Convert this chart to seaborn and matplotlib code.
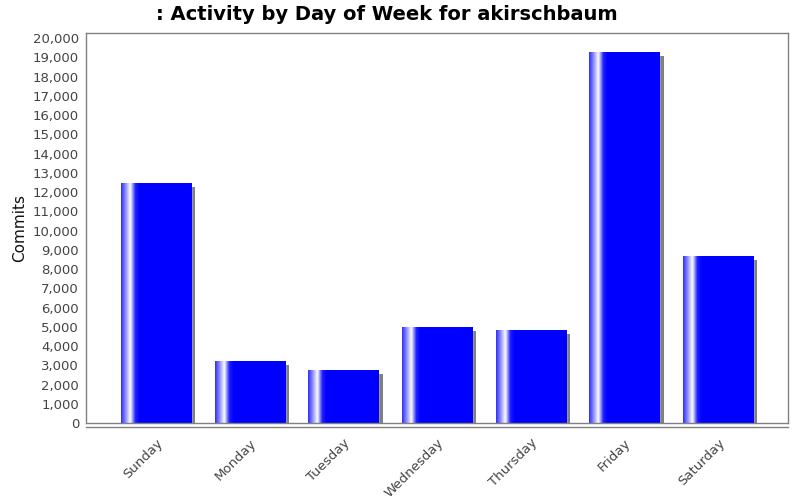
import numpy as np
import matplotlib
matplotlib.use("Agg")
import matplotlib.pyplot as plt
import matplotlib.patheffects as pe
from matplotlib.colors import LinearSegmentedColormap
import seaborn as sns
import pandas as pd

days = ["Sunday", "Monday", "Tuesday", "Wednesday", "Thursday", "Friday", "Saturday"]
commits = [12470, 3220, 2740, 4970, 4850, 19270, 8660]
y_ticks = list(range(0, 20001, 1000))

df = pd.DataFrame({"day": days, "commits": commits})

sns.set_style("white")
plt.rcParams["font.family"] = ["DejaVu Sans"]

fig = plt.figure(figsize=(8, 5), dpi=100)
ax = fig.add_axes([0.1075, 0.154, 0.8775, 0.78])

sns.barplot(data=df, x="day", y="commits", color="#0000ff", width=0.75,
            saturation=1, ax=ax)

# jfreechart style gradient + drop shadow
grad = LinearSegmentedColormap.from_list(
    "jfc", [(0.0, "#3030ff"), (0.07, "#9a9aff"), (0.13, "#ffffff"),
            (0.2, "#2020ff"), (0.26, "#0000ff"), (1.0, "#0000ff")])
row = np.linspace(0, 1, 200).reshape(1, -1)
for p in ax.patches:
    p.set_path_effects([pe.SimplePatchShadow(offset=(3, -3), shadow_rgbFace="#808080", alpha=1.0),
                        pe.Normal()])
    x0, w, h = p.get_x(), p.get_width(), p.get_height()
    im = ax.imshow(row, cmap=grad, aspect="auto", extent=(x0, x0 + w, 0, h),
                   interpolation="bilinear", zorder=p.get_zorder() + 0.1)
    im.set_clip_path(p)

ax.set_xlim(-0.747, len(days) - 1 + 0.747)
ax.set_ylim(0, 20260)
ax.set_yticks(y_ticks)
ax.set_yticklabels([f"{v:,}" for v in y_ticks])

for s in ax.spines.values():
    s.set_color("#808080")
    s.set_linewidth(1)
ax.spines["bottom"].set_position(("outward", 3))
ax.axhline(0, color="#808080", lw=1, zorder=5, clip_on=False)

ax.tick_params(axis="both", colors="#808080", length=3, width=1, direction="out",
               labelcolor="#444444", labelsize=9.5)
ax.tick_params(axis="y", pad=2)
plt.setp(ax.get_xticklabels(), rotation=45, ha="right", rotation_mode="anchor")

ax.set_xlabel("")
ax.set_ylabel("Commits", fontsize=11, color="#111111", labelpad=4)
fig.suptitle(": Activity by Day of Week for akirschbaum", fontsize=14, fontweight="bold",
             color="black", x=0.484, y=0.99)

fig.savefig("out.png", dpi=100)
